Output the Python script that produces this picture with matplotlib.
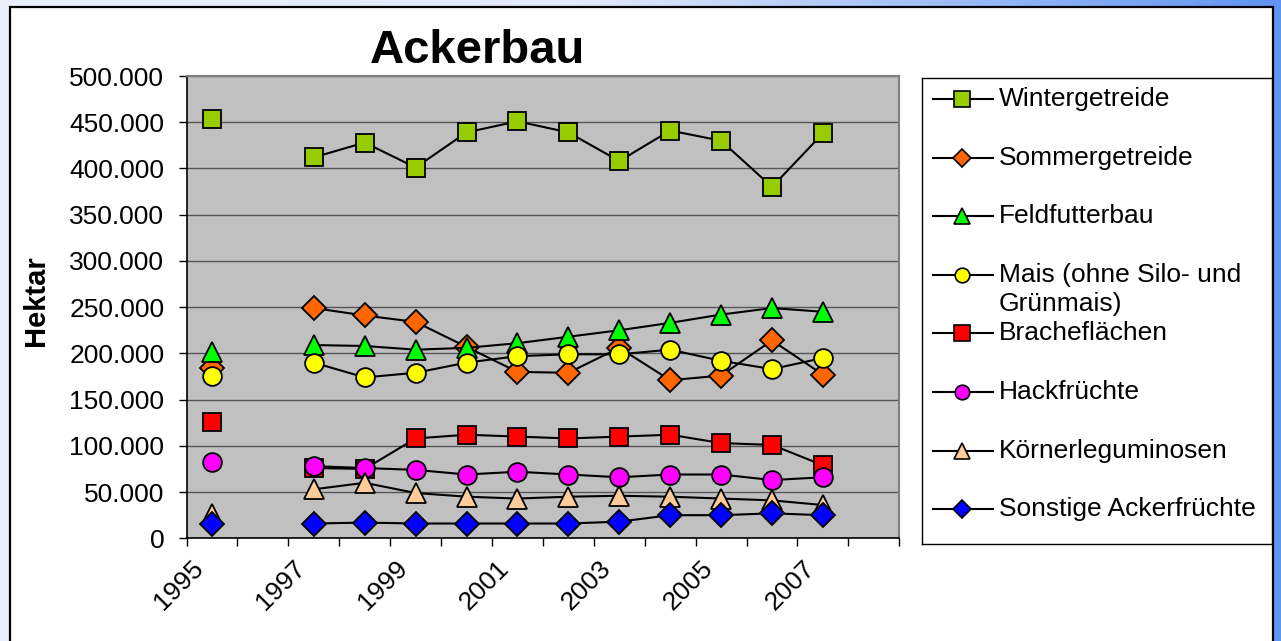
import numpy as np
import matplotlib.pyplot as plt
from matplotlib.patches import Rectangle

plt.rcParams['font.family'] = ['Liberation Sans', 'DejaVu Sans']

# categories (1996 and 2008 without data)
years = ['1995', '1996', '1997', '1998', '1999', '2000', '2001',
         '2002', '2003', '2004', '2005', '2006', '2007', '2008']
nan = np.nan

# values in 1000 ha
wintergetreide = [453, nan, 412, 428, 401, 439, 451, 439, 408, 441, 430, 380, 438, nan]
sommergetreide = [184, nan, 249, 241, 234, 207, 180, 179, 206, 171, 176, 214, 177, nan]
feldfutterbau = [202, nan, 209, 208, 204, 206, 211, 218, 225, 233, 242, 249, 245, nan]
mais = [176, nan, 190, 174, 179, 190, 197, 199, 199, 204, 192, 183, 195, nan]
brache = [126, nan, 76, 75, 108, 112, 110, 108, 110, 112, 103, 101, 79, nan]
hackfruechte = [83, nan, 78, 76, 74, 69, 72, 69, 66, 69, 69, 63, 66, nan]
koernerleg = [26, nan, 53, 60, 49, 45, 43, 45, 46, 45, 43, 41, 36, nan]
sonstige = [16, nan, 16, 17, 16, 16, 16, 16, 18, 25, 25, 27, 25, nan]

labels = ['Wintergetreide', 'Sommergetreide', 'Feldfutterbau',
          'Mais (ohne Silo- und\nGrünmais)', 'Bracheflächen', 'Hackfrüchte',
          'Körnerleguminosen', 'Sonstige Ackerfrüchte']
series = [wintergetreide, sommergetreide, feldfutterbau, mais,
          brache, hackfruechte, koernerleg, sonstige]
colors = ['#99CC00', '#FF6600', '#00FF00', '#FFFF00',
          '#FF0000', '#FF00FF', '#FFCC99', '#0000FF']
markers = ['s', 'D', '^', 'o', 's', 'o', '^', 'D']
msizes = {'s': 13.5, 'D': 12, '^': 14.5, 'o': 13.5}
leg_msizes = {'s': 11, 'D': 9.5, '^': 11.5, 'o': 10.5}

W, H = 1281, 641
fig = plt.figure(figsize=(W / 100, H / 100), dpi=100)

# blue gradient background
bg = fig.add_axes([0, 0, 1, 1], zorder=-10)
t = np.linspace(0, 1, 400)
r = np.interp(t, [0, 0.45, 1], [234, 226, 95])
g = np.interp(t, [0, 0.45, 1], [240, 234, 148])
b = np.interp(t, [0, 0.45, 1], [252, 252, 242])
grad = np.stack([r, g, b], axis=-1)[None, :, :] / 255
bg.imshow(np.repeat(grad, 2, axis=0), aspect='auto', extent=[0, 1, 0, 1])
bg.set_axis_off()

# white chart area
fig.patches.append(Rectangle((10 / W, -0.02), 1263 / W, 1 - 7 / H + 0.02,
                             transform=fig.transFigure, facecolor='white',
                             edgecolor='black', linewidth=1.6, zorder=-5))

ax = fig.add_axes([186.5 / W, 1 - 538.3 / H, 712.8 / W, 462.3 / H])
ax.set_facecolor('#C0C0C0')

x = np.arange(len(years))
for vals, lab, col, mk in zip(series, labels, colors, markers):
    ax.plot(x, np.array(vals) * 1000, color='black', linewidth=1.5,
            marker=mk, markersize=msizes[mk], markerfacecolor=col,
            markeredgecolor='black', markeredgewidth=1.3, label=lab)

ax.set_ylim(0, 500000)
ax.set_yticks(np.arange(0, 500001, 50000))
ax.set_yticklabels(['0' if v == 0 else f'{v:,.0f}'.replace(',', '.')
                    for v in np.arange(0, 500001, 50000)])
ax.yaxis.grid(True, color='#555555', linewidth=1.0)
ax.set_axisbelow(True)
ax.tick_params(axis='y', direction='out', length=6, width=1, pad=10,
               labelsize=19, colors='black')

ax.set_xlim(-0.5, len(years) - 0.5)
ax.set_xticks(np.arange(-0.5, len(years), 1))
ax.set_xticklabels([])
ax.tick_params(axis='x', which='major', direction='out', length=6, width=1)
lab_idx = np.arange(0, len(years), 2)
ax.set_xticks(lab_idx - 0.4, minor=True)
ax.set_xticklabels([years[i] for i in lab_idx], minor=True, rotation=45,
                   ha='right', va='top', rotation_mode='anchor', fontsize=19)
ax.tick_params(axis='x', which='minor', length=0, pad=13)

for side in ['top', 'right']:
    ax.spines[side].set_color('#808080')
    ax.spines[side].set_linewidth(1.5)
for side in ['left', 'bottom']:
    ax.spines[side].set_color('black')
    ax.spines[side].set_linewidth(1.2)

fig.text(477 / W, 1 - 63 / H, 'Ackerbau', ha='center', va='baseline',
         fontsize=34, fontweight='bold')
fig.text(36 / W, 1 - 301 / H, 'Hektar', ha='center', va='center',
         rotation=90, fontsize=21, fontweight='bold')

# legend box drawn like the Excel legend (uniform row spacing)
lx0, ly0, lx1, ly1 = 922, 78, 1272, 544
lax = fig.add_axes([lx0 / W, 1 - ly1 / H, (lx1 - lx0) / W, (ly1 - ly0) / H])
lax.set_xlim(lx0, lx1)
lax.set_ylim(ly1, ly0)
lax.set_xticks([])
lax.set_yticks([])
for sp in lax.spines.values():
    sp.set_linewidth(1.0)
    sp.set_color('black')
row0, step, line_h = 99, 58.6, 29
for i, (lab, col, mk) in enumerate(zip(labels, colors, markers)):
    yy = row0 + i * step
    lax.plot([933, 993], [yy, yy], color='black', linewidth=1.5)
    lax.plot([962], [yy], marker=mk, markersize=leg_msizes[mk],
             markerfacecolor=col, markeredgecolor='black', markeredgewidth=1.2)
    for k, part in enumerate(lab.split('\n')):
        lax.text(999, yy + k * line_h, part, ha='left', va='center',
                 fontsize=19)

fig.savefig('out.png', dpi=100)
